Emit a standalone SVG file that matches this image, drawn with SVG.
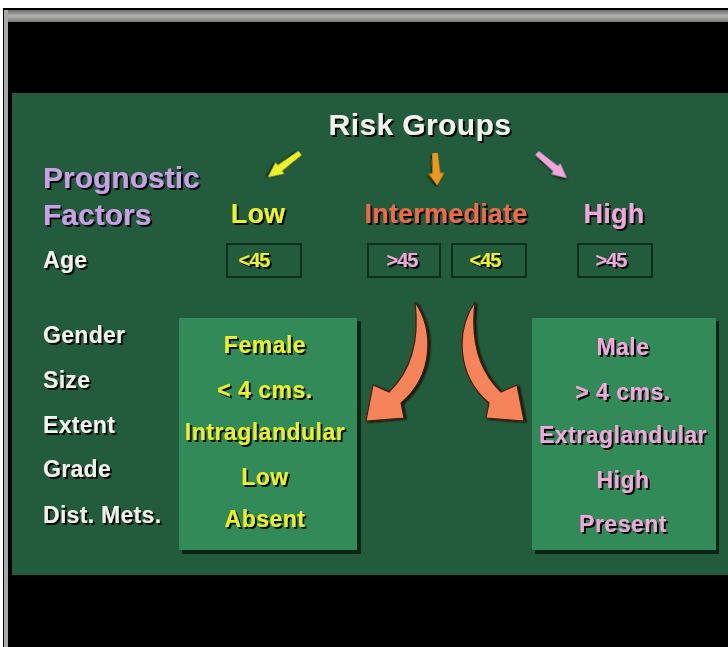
<svg xmlns="http://www.w3.org/2000/svg" width="728" height="647" viewBox="0 0 728 647">
<style>
.t{font-family:"Liberation Sans",Arial,sans-serif;font-weight:bold;filter:url(#sh)}
.lab{font-size:23px;fill:#f2f2ec;letter-spacing:0.3px}
.grp{font-size:27px;letter-spacing:0.2px;text-anchor:middle}
.bx{font-size:23px;letter-spacing:0.5px;text-anchor:middle}
.ag{font-size:20px;text-anchor:middle;letter-spacing:-1px}
.yel{fill:#eef02a}
.pnk{fill:#f2a6dc}
.org{fill:#f06a48}
.pur{fill:#c9a0e6}
.small{fill:#235c3c;stroke:#0f2f1c;stroke-width:2}
.big{fill:#318a57}
.bigsh{fill:#0b2414}
.curve{fill:#f5845a;stroke:#4a1e0c;stroke-width:1.2;filter:url(#sh2)}
</style>
<defs>
<filter id="sh" x="-10%" y="-20%" width="130%" height="160%">
<feDropShadow dx="2" dy="2" stdDeviation="0.6" flood-color="#000" flood-opacity="0.9"/>
</filter>
<filter id="sh2" x="-20%" y="-20%" width="150%" height="150%">
<feDropShadow dx="2" dy="1" stdDeviation="0.8" flood-color="#000" flood-opacity="0.8"/>
</filter>
<linearGradient id="gb" x1="0" y1="0" x2="0" y2="1">
<stop offset="0" stop-color="#6a6a66"/><stop offset="0.5" stop-color="#b4b4ae"/><stop offset="1" stop-color="#7a7a76"/>
</linearGradient>
<path id="sa" d="M0,-2.5 L24,-3.5 L24,-7 L38,0 L24,7 L24,3.5 L0,2.5 Z"/>
</defs>
<rect x="0" y="0" width="728" height="647" fill="#ffffff"/>
<rect x="3" y="8" width="725" height="639" fill="#000"/>
<rect x="4" y="10" width="724" height="12" fill="url(#gb)"/>
<rect x="4" y="10" width="4" height="637" fill="#a8a8a4"/>
<rect x="12" y="93" width="716" height="482" fill="#235c3c"/>

<g id="title"><text class="t" x="420" y="135" font-size="30" fill="#f2f2ec" text-anchor="middle" letter-spacing="0.4">Risk Groups</text></g>
<g id="prognostic"><text class="t pur" x="43" y="188" font-size="30">Prognostic</text><text class="t pur" x="43" y="225" font-size="30">Factors</text></g>
<g id="low"><text class="t grp yel" x="258" y="223">Low</text></g>
<g id="intermediate"><text class="t grp org" x="446" y="223">Intermediate</text></g>
<g id="high"><text class="t grp pnk" x="614" y="223">High</text></g>

<g id="labels">
<text class="t lab" x="43" y="268">Age</text>
<text class="t lab" x="43" y="343">Gender</text>
<text class="t lab" x="43" y="388">Size</text>
<text class="t lab" x="43" y="433">Extent</text>
<text class="t lab" x="43" y="477">Grade</text>
<text class="t lab" x="43" y="523">Dist. Mets.</text>
</g>

<g id="age-low"><rect class="small" x="227" y="244" width="74" height="33"/><text class="t ag yel" x="254" y="267">&lt;45</text></g>
<g id="age-int-old"><rect class="small" x="368" y="244" width="72" height="33"/><text class="t ag pnk" x="402" y="267">&gt;45</text></g>
<g id="age-int-young"><rect class="small" x="452" y="244" width="74" height="33"/><text class="t ag yel" x="485" y="267">&lt;45</text></g>
<g id="age-high"><rect class="small" x="578" y="244" width="74" height="33"/><text class="t ag pnk" x="611" y="267">&gt;45</text></g>

<g id="low-box">
<rect class="bigsh" x="182" y="321" width="179" height="233"/>
<rect class="big" x="179" y="318" width="178" height="232"/>
<text class="t bx yel" x="265" y="353">Female</text>
<text class="t bx yel" x="265" y="398">&lt; 4 cms.</text>
<text class="t bx yel" x="265" y="440">Intraglandular</text>
<text class="t bx yel" x="265" y="485">Low</text>
<text class="t bx yel" x="265" y="527">Absent</text>
</g>

<g id="high-box">
<rect class="bigsh" x="535" y="321" width="184" height="233"/>
<rect class="big" x="532" y="318" width="184" height="232"/>
<text class="t bx pnk" x="623" y="355">Male</text>
<text class="t bx pnk" x="623" y="400">&gt; 4 cms.</text>
<text class="t bx pnk" x="623" y="443">Extraglandular</text>
<text class="t bx pnk" x="623" y="488">High</text>
<text class="t bx pnk" x="623" y="532">Present</text>
</g>

<g id="connectors">
<use href="#sa" fill="#eef02a" filter="url(#sh2)" transform="translate(300,153) rotate(143) scale(1.05,1)"/>
<use href="#sa" fill="#f0981e" filter="url(#sh2)" transform="translate(435,153) rotate(86) scale(0.85,1.1)"/>
<use href="#sa" fill="#f2a6dc" filter="url(#sh2)" transform="translate(537,153) rotate(40) scale(1.02,1)"/>
<path class="curve" d="M415,302 C434,330 434,375 401,403 L404,418 L366,421 L373,385 L389,392 C414,368 419,335 415,302 Z"/>
<path class="curve" d="M475,302 C456,330 456,375 489,403 L486,418 L524,421 L517,385 L501,392 C476,368 471,335 475,302 Z"/>
</g>
</svg>
